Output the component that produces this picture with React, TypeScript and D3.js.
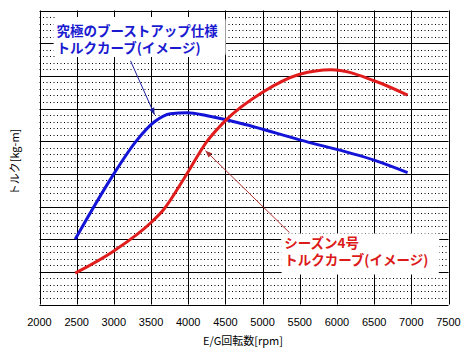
import * as d3 from "d3";
import React from "react";

// engine speed ticks
const rpmTicks = [2000, 2500, 3000, 3500, 4000, 4500, 5000, 5500, 6000, 6500, 7000, 7500];

// blue: boosted torque curve
const boostRpm = [2480, 3000, 3300, 3550, 3760, 3986, 4255, 4650, 5500, 6500, 6950];
const boostTorque = [2.0, 4.0, 5.0, 5.6, 5.84, 5.87, 5.78, 5.58, 5.04, 4.42, 4.04];

// red: season 4 torque curve
const s4Rpm = [2480, 3000, 3500, 3670, 3950, 4255, 4500, 5000, 5500, 5924, 6500, 6950];
const s4Torque = [0.96, 1.64, 2.51, 2.91, 3.88, 5.0, 5.63, 6.5, 7.05, 7.19, 6.85, 6.41];

const boostLabel = ["究極のブーストアップ仕様", "トルクカーブ(イメージ)"];
const s4Label = ["シーズン4号", "トルクカーブ(イメージ)"];

const W = 468;
const H = 354;
const FONT = "'Noto Sans CJK JP', 'Noto Sans', sans-serif";

const App: React.FC = () => {
  const x = d3.scaleLinear().domain([2000, 7500]).range([39.5, 448.5]);
  const y = d3.scaleLinear().domain([0, 9]).range([304.5, 10.5]);

  const majorY = d3.range(0, 10, 1);
  const minorY = d3.range(0, 9, 0.2).filter((v) => Math.abs(v - Math.round(v)) > 0.01);

  const line = d3
    .line<[number, number]>()
    .x((d) => x(d[0]))
    .y((d) => y(d[1]))
    .curve(d3.curveMonotoneX);

  const blueData = boostRpm.map((r, i) => [r, boostTorque[i]] as [number, number]);
  const redData = s4Rpm.map((r, i) => [r, s4Torque[i]] as [number, number]);

  return (
    <svg
      width={W}
      height={H}
      style={{ position: "absolute", left: 0, top: 0, background: "#fff" }}
    >
      <defs>
        <marker id="ab" viewBox="0 0 10 10" refX="10" refY="5" markerWidth="7" markerHeight="7" orient="auto">
          <path d="M0,1 L10,5 L0,9 Z" fill="#2020a0" />
        </marker>
        <marker id="ar" viewBox="0 0 10 10" refX="10" refY="5" markerWidth="7" markerHeight="7" orient="auto">
          <path d="M0,1 L10,5 L0,9 Z" fill="#b03030" />
        </marker>
      </defs>

      {/* minor dotted rows */}
      {minorY.map((v, i) => (
        <line
          key={"m" + i}
          x1={x(2000)}
          x2={x(7500)}
          y1={Math.round(y(v)) + 0.5}
          y2={Math.round(y(v)) + 0.5}
          stroke="#000"
          strokeWidth={1}
          strokeDasharray="1,2.5"
        />
      ))}
      {/* major grid */}
      {majorY.map((v) => (
        <line key={"h" + v} x1={x(2000)} x2={x(7500)} y1={Math.round(y(v)) + 0.5} y2={Math.round(y(v)) + 0.5} stroke="#000" />
      ))}
      {rpmTicks.map((r) => (
        <line key={"v" + r} x1={Math.round(x(r)) + 0.5} x2={Math.round(x(r)) + 0.5} y1={y(9)} y2={y(0)} stroke="#000" />
      ))}

      {/* label backgrounds */}
      <rect x={x(2190)} y={y(8.8)} width={172} height={40} fill="#fff" rx={4} />
      <rect x={x(5250)} y={y(2.17)} width={158} height={41} fill="#fff" rx={4} />

      {/* curves */}
      <path d={line(blueData) || ""} fill="none" stroke="#1414d8" strokeWidth={3} />
      <path d={line(redData) || ""} fill="none" stroke="#e01c1c" strokeWidth={3} />

      {/* arrows */}
      <line x1={x(3224)} y1={y(7.46)} x2={x(3547)} y2={y(5.81)} stroke="#2020a0" strokeWidth={1} markerEnd="url(#ab)" />
      <line x1={x(5362)} y1={y(2.2)} x2={x(4232)} y2={y(4.71)} stroke="#b03030" strokeWidth={1} markerEnd="url(#ar)" />

      {/* annotation texts */}
      <text fontFamily={FONT} fontSize={13.5} fontWeight="bold" fill="#1a1ad0">
        <tspan x={x(2229)} y={y(8.22)}>{boostLabel[0]}</tspan>
        <tspan x={x(2229)} y={y(7.7)}>{boostLabel[1]}</tspan>
      </text>
      <text fontFamily={FONT} fontSize={13.5} fontWeight="bold" fill="#dc1a1a">
        <tspan x={x(5290)} y={y(1.72)}>{s4Label[0]}</tspan>
        <tspan x={x(5290)} y={y(1.2)}>{s4Label[1]}</tspan>
      </text>

      {/* x tick labels */}
      {rpmTicks.map((r) => (
        <text key={"t" + r} x={x(r)} y={326} textAnchor="middle" fontFamily="'Liberation Sans', sans-serif" fontSize={11} fill="#000">
          {r}
        </text>
      ))}

      {/* axis titles */}
      <text x={243} y={345} textAnchor="middle" fontFamily={FONT} fontSize={11} fill="#000">
        E/G回転数[rpm]
      </text>
      <text
        transform="translate(19,162) rotate(-90)"
        textAnchor="middle"
        fontFamily={FONT}
        fontSize={11}
        fill="#000"
      >
        トルク[kg-m]
      </text>
    </svg>
  );
};

export default App;
